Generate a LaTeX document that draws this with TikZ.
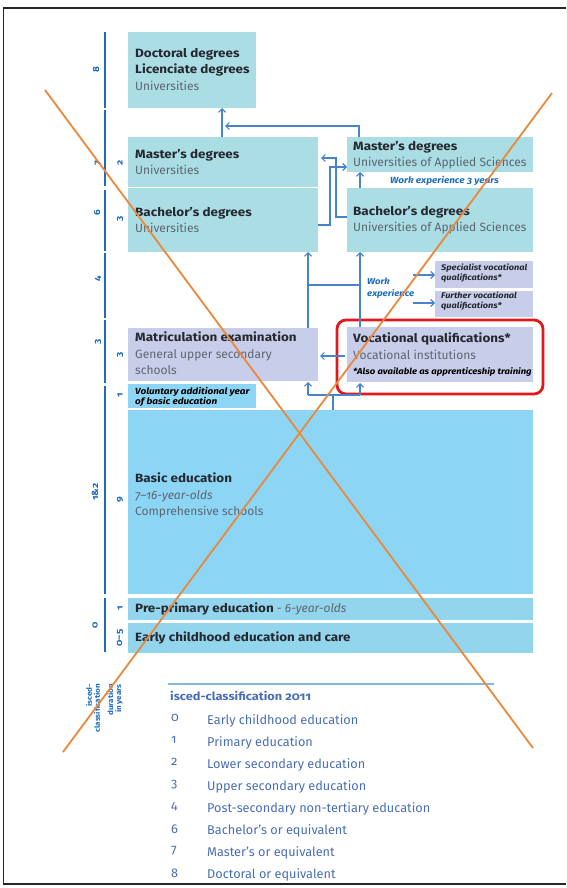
\documentclass[tikz,border=0pt]{standalone}
\usepackage{fontspec}
\setmainfont{Fira Sans}[Numbers=OldStyle,
  BoldFeatures={FakeStretch=1.12},
  BoldItalicFeatures={FakeStretch=1.12}]
\usetikzlibrary{arrows.meta}

\definecolor{boxteal}{RGB}{171,221,229}
\definecolor{boxlav}{RGB}{200,206,233}
\definecolor{boxsky}{RGB}{141,213,245}
\definecolor{boxearly}{RGB}{146,213,236}
\definecolor{titletext}{RGB}{38,40,48}
\definecolor{subtext}{RGB}{92,102,112}
\definecolor{linkblue}{RGB}{72,132,204}
\definecolor{axisblue}{RGB}{30,108,190}
\definecolor{legendblue}{RGB}{72,110,180}
\definecolor{rulelight}{RGB}{130,182,226}
\definecolor{crossorange}{RGB}{234,136,60}
\definecolor{framered}{RGB}{228,24,28}

\begin{document}
\begin{tikzpicture}[x=1pt,y=-1pt,
  box/.style={anchor=north west, inner sep=0, outer sep=0, draw=none},
  txt/.style={anchor=north west, inner sep=0, align=left, text=titletext,
    font=\fontsize{12}{16.5}\selectfont},
  small/.style={anchor=north west, inner sep=0, align=left,
    font=\fontsize{8.5}{10}\selectfont\bfseries\itshape},
  link/.style={draw=linkblue, line width=1.1pt},
  arr/.style={link, -{Straight Barb[length=3.5pt,width=7pt]}},
  axis/.style={draw=axisblue, line width=2.6pt},
  lvl/.style={rotate=90, text=axisblue, inner sep=0, font=\fontsize{9}{9}\selectfont\bfseries},
  leg/.style={anchor=north west, inner sep=0, text=legendblue, font=\fontsize{12.7}{14}\selectfont},
  cross/.style={draw=crossorange, line width=1.8pt}
]
\useasboundingbox (0,0) rectangle (566,888);

% outer frame
\draw[line width=1.6pt, draw=black!85] (566,8) -- (3.5,8) -- (3.5,884) -- (566,884);

% level axis
\foreach \a/\b in {32/108,110/186,190/251,253/318,320/383,386/594,598/652}
  \draw[axis] (105,\a) -- (105,\b);

% level and duration labels
\node[lvl] (l8) at (96,70) {8};
\node[lvl] (l7) at (98,163) {7};
\node[lvl] (l6) at (97,213) {6};
\node[lvl] (l4) at (98,279) {4};
\node[lvl] (l3) at (98,342) {3};
\node[lvl] (l12) at (95,492) {1\&2};
\node[lvl] (l0) at (95,625) {0};
\node[lvl] (d2) at (120,163) {2};
\node[lvl] (d3a) at (120,219) {3};
\node[lvl] (d3b) at (120,355) {3};
\node[lvl] (d1a) at (120,395) {1};
\node[lvl] (d9) at (120,500) {9};
\node[lvl] (d1b) at (120,608) {1};
\node[lvl] (d05) at (120,638) {0–5};

% boxes
\node[box, fill=boxteal, minimum width=128, minimum height=76] (doc) at (128,32) {};
\node[box, fill=boxteal, minimum width=190, minimum height=50] (mu) at (128,137) {};
\node[box, fill=boxteal, minimum width=190, minimum height=64] (bu) at (128,188) {};
\node[box, fill=boxteal, minimum width=186, minimum height=35] (mas) at (347,137) {};
\node[box, fill=boxteal, minimum width=186, minimum height=64] (bas) at (347,188) {};
\node[box, fill=boxlav, minimum width=98, minimum height=27] (spec) at (435,261) {};
\node[box, fill=boxlav, minimum width=98, minimum height=26] (furt) at (435,291) {};
\node[box, fill=boxlav, minimum width=190, minimum height=53] (mat) at (128,328) {};
\node[box, fill=boxlav, minimum width=186, minimum height=55] (voc) at (347,327) {};
\node[box, fill=boxsky, minimum width=128, minimum height=24] (vol) at (128,384) {};
\node[box, fill=boxsky, minimum width=405, minimum height=184] (basic) at (128,410) {};
\node[box, fill=boxearly, minimum width=405, minimum height=22] (pre) at (128,598) {};
\node[box, fill=boxearly, minimum width=405, minimum height=30] (early) at (128,623) {};

% box texts
\node[txt] (tdoc) at (135,48) {\textbf{Doctoral degrees}\\\textbf{Licenciate degrees}\\{\color{subtext}Universities}};
\node[txt] (tmu) at (135,149) {\textbf{Master’s degrees}\\{\color{subtext}Universities}};
\node[txt] (tbu) at (135,207) {\textbf{Bachelor’s degrees}\\{\color{subtext}Universities}};
\node[txt] (tmas) at (353,141) {\textbf{Master’s degrees}\\{\color{subtext}Universities of Applied Sciences}};
\node[txt] (tbas) at (353,206) {\textbf{Bachelor’s degrees}\\{\color{subtext}Universities of Applied Sciences}};
\node[txt] (tmat) at (135,332) {\textbf{Matriculation examination}\\{\color{subtext}General upper secondary}\\{\color{subtext}schools}};
\node[txt] (tvoc) at (353,333) {\textbf{Vocational qualifications*}\\{\color{subtext}Vocational institutions}};
\node[small, text=black] (tfoot) at (353,367) {*Also available as apprenticeship training};
\node[small, text=titletext, font=\fontsize{8.2}{10}\selectfont\bfseries\itshape] (tspec) at (441,264) {Specialist vocational\\qualifications*};
\node[small, text=titletext, font=\fontsize{8.2}{10}\selectfont\bfseries\itshape] (tfurt) at (441,292) {Further vocational\\qualifications*};
\node[small, text=black, font=\fontsize{8.9}{10}\selectfont\bfseries\itshape] (tvol) at (135,387) {Voluntary additional year\\of basic education};
\node[txt] (tbasic) at (135,473) {\textbf{Basic education}\\{\color{subtext}\itshape 7–16-year-olds}\\{\color{subtext}Comprehensive schools}};
\node[txt, anchor=west] (tpre) at (135,609) {\textbf{Pre-primary education} {\color{subtext}- \itshape 6-year-olds}};
\node[txt, anchor=west] (tearly) at (135,638) {\textbf{Early childhood education and care}};

% work experience notes
\node[small, text=axisblue, font=\fontsize{8.9}{10}\selectfont\bfseries\itshape] (wx3) at (390,176) {Work experience 3 years};
\node[small, text=axisblue, font=\fontsize{8.6}{12}\selectfont\bfseries\itshape] (wx) at (367,278) {Work\\experience};

% red highlight around vocational qualifications
\draw[draw=framered, line width=2.8pt, rounded corners=9pt] (337,320) rectangle (543,394);

% connectors
\coordinate (jd) at (225,126);
\coordinate (jb) at (308,285);
\coordinate (jv) at (360,285);
\coordinate (js) at (333,395);
\coordinate (w1) at (413,275);
\coordinate (w2) at (413,303);

\draw[arr] (222,0 |- mu.north) -- (222,0 |- doc.south);
\draw[arr] (359,0 |- mas.north) |- (jd);
\draw[arr] (bas.west |- 0,217) -- (336,217) |- ([xshift=3pt]mu.east |- 0,158);
\draw[arr] (bu.east |- 0,225) -- (330,225) |- (mas.west |- 0,167);
\draw[arr] (360,0 |- bas.north) -- (360,0 |- mas.south);
\draw[arr] (308,0 |- mat.north) -- (308,0 |- bu.south);
\draw[arr] (360,0 |- voc.north) -- (360,0 |- bas.south);
\draw[link] (jb) -- (jv);
\draw[arr, {Straight Barb[length=3.5pt,width=7pt]}-] ([xshift=2pt]mat.east |- 0,356) -- ([xshift=-2pt]voc.west |- 0,356);
\draw[link] (js |- basic.north) -- (js);
\draw[link] (308,395) -- (360,395);
\draw[arr] (308,395) -- ([yshift=-1pt]308,0 |- mat.south);
\draw[arr] (360,395) -- ([yshift=-1pt]360,0 |- voc.south);
\draw[arr] (w1) -- (spec.west |- w1);
\draw[arr] (w2) -- (furt.west |- w2);

% legend
\draw[draw=rulelight, line width=1.8pt] (168,684) -- (494,684);
\node[leg, font=\fontsize{11.4}{13}\selectfont\bfseries] (lt) at (170,691) {isced-classification 2011};
\foreach \n/\t [count=\i from 0] in {0/Early childhood education,1/Primary education,2/Lower secondary education,3/Upper secondary education,4/Post-secondary non-tertiary education,6/Bachelor’s or equivalent,7/Master’s or equivalent,8/Doctoral or equivalent}{
  \node[leg] (ln\i) at (171,714+22.1*\i) {\n};
  \node[leg] (lx\i) at (207,714+22.1*\i) {\t};
}

% axis captions
\node[lvl, font=\fontsize{7.2}{8}\selectfont\bfseries, align=right, anchor=east] (cap1) at (93,684) {isced-\\classification};
\node[lvl, font=\fontsize{7.2}{8}\selectfont\bfseries, align=right, anchor=east] (cap2) at (115,684) {duration\\in years};

% crossing strokes
\draw[cross] (45,90) -- (533,748);
\draw[cross] (552,93) -- (63,752);
\end{tikzpicture}
\end{document}
